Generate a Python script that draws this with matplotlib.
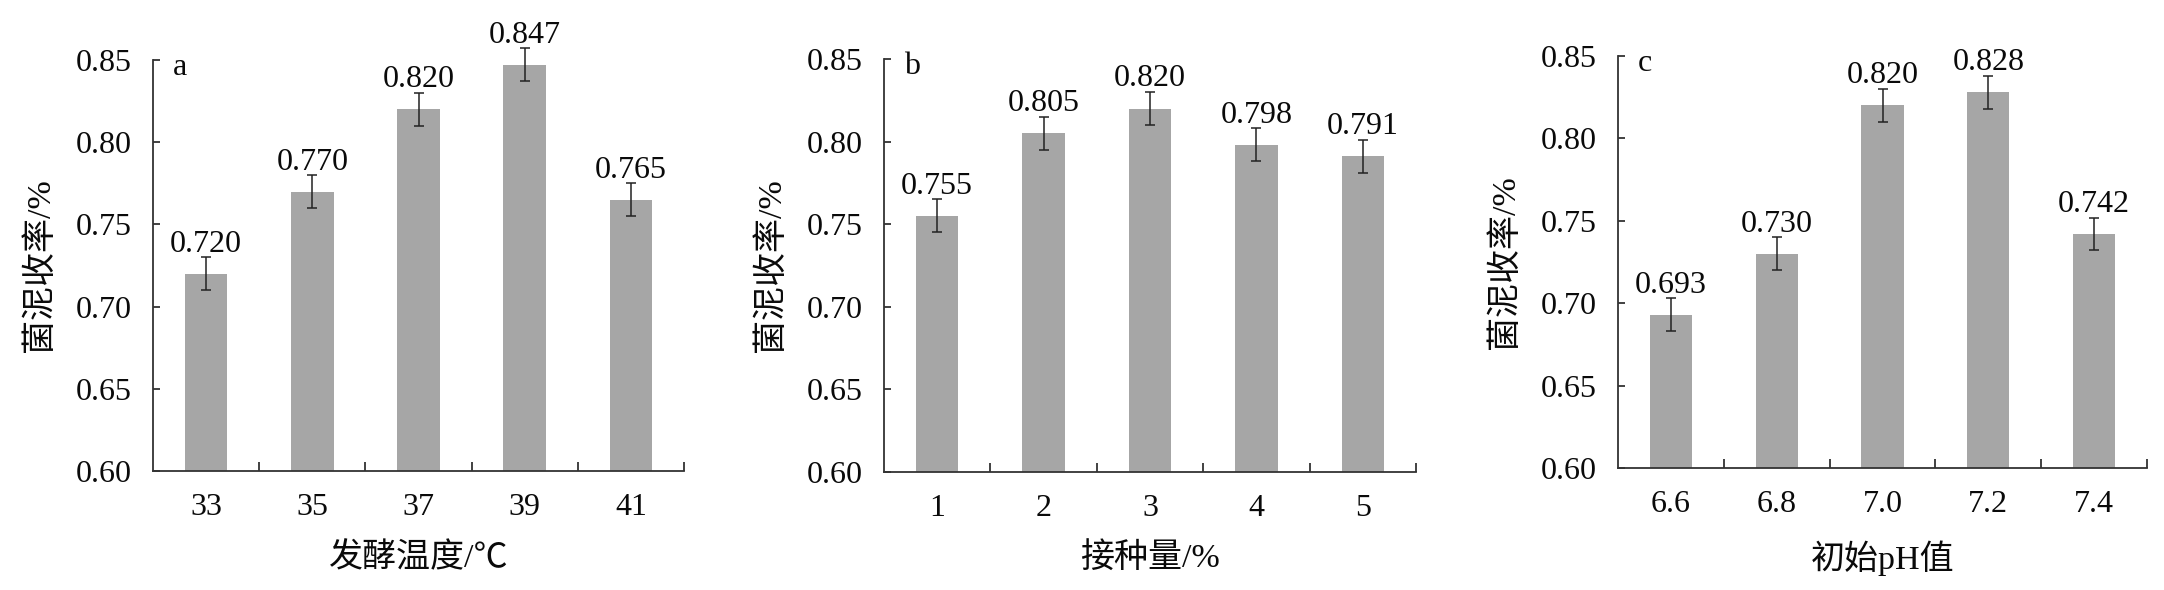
import matplotlib
matplotlib.use("Agg")
import matplotlib.pyplot as plt
import numpy as np

plt.rcParams['font.family'] = ['Liberation Serif', 'Noto Sans CJK SC', 'DejaVu Sans']

# ---- data ----
cats_a = ['33', '35', '37', '39', '41']
vals_a = [0.720, 0.770, 0.820, 0.847, 0.765]
err_a = [0.01, 0.01, 0.01, 0.01, 0.01]

cats_b = ['1', '2', '3', '4', '5']
vals_b = [0.755, 0.805, 0.820, 0.798, 0.791]
err_b = [0.01, 0.01, 0.01, 0.01, 0.01]

cats_c = ['6.6', '6.8', '7.0', '7.2', '7.4']
vals_c = [0.693, 0.730, 0.820, 0.828, 0.742]
err_c = [0.01, 0.01, 0.01, 0.01, 0.01]

xlabels = ['发酵温度/℃', '接种量/%', '初始pH值']
ylabel = '菌泥收率/%'
panel_letters = ['a', 'b', 'c']
yticks = [0.60, 0.65, 0.70, 0.75, 0.80, 0.85]

W, H = 2164, 590
fig = plt.figure(figsize=(W / 100, H / 100), dpi=100)

# axes boxes in pixels: left, right, top, bottom
boxes = [(153, 684, 60, 471), (884, 1416, 59, 472), (1618, 2147, 56, 468)]

FS = 23
LFS = 24.5
bar_color = '#a6a6a6'
line_color = '#333333'
text_color = '#0a0a0a'

datasets = [(cats_a, vals_a, err_a), (cats_b, vals_b, err_b), (cats_c, vals_c, err_c)]

for i, ((cats, vals, errs), box) in enumerate(zip(datasets, boxes)):
    l, r, t, b = box
    ax = fig.add_axes([l / W, (H - b) / H, (r - l) / W, (b - t) / H])
    x = np.arange(len(cats))
    ax.bar(x, vals, width=0.4, color=bar_color, edgecolor='none', zorder=2)
    ax.errorbar(x, vals, yerr=errs, fmt='none', ecolor='#222222',
                elinewidth=1.1, capsize=3.6, capthick=1.1, zorder=3, clip_on=False)
    for xi, v, e in zip(x, vals, errs):
        ax.annotate(f'{v:.3f}', xy=(xi, v + e), xytext=(0, 4),
                    textcoords='offset points', ha='center', va='baseline',
                    fontsize=FS, color=text_color, annotation_clip=False)
    ax.set_xlim(-0.5, len(cats) - 0.5)
    ax.set_ylim(0.60, 0.85)
    ax.set_yticks(yticks)
    ax.set_yticklabels([f'{v:.2f}' for v in yticks])
    ax.set_xticks(x)
    ax.set_xticklabels(cats)
    ax.set_xticks(np.arange(len(cats)) + 0.5, minor=True)
    ax.tick_params(axis='x', which='major', length=0, pad=16, labelsize=FS, colors=text_color)
    ax.tick_params(axis='x', which='minor', direction='in', length=6.5, width=1.3, color=line_color)
    ax.tick_params(axis='y', which='major', direction='in', length=5, width=1.3,
                   pad=15, labelsize=FS, color=line_color, labelcolor=text_color)
    for s in ['top', 'right']:
        ax.spines[s].set_visible(False)
    for s in ['left', 'bottom']:
        ax.spines[s].set_linewidth(1.3)
        ax.spines[s].set_color(line_color)
    ax.set_xlabel(xlabels[i], fontsize=LFS, va='center', color=text_color)
    ax.xaxis.set_label_coords(0.5, (b - 558) / (b - t))
    ax.set_ylabel(ylabel, fontsize=LFS, va='center', color=text_color)
    ax.yaxis.set_label_coords((40 + (l - 153) - l) / (r - l), 0.5)
    ax.text(0.037, 0.963, panel_letters[i], transform=ax.transAxes, ha='left',
            va='baseline', fontsize=FS, color=text_color)

fig.savefig('out.png', dpi=100)
